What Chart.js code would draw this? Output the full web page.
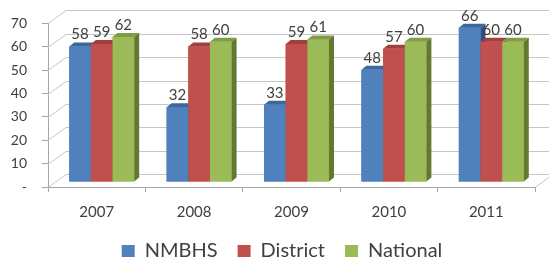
<!DOCTYPE html>
<html>
<head>
<meta charset="utf-8">
<script src="https://cdn.jsdelivr.net/npm/chart.js@4/dist/chart.umd.min.js"></script>
<style>
  html, body { margin: 0; padding: 0; background: #ffffff; }
  #wrap { width: 549px; height: 260px; position: relative; }
</style>
</head>
<body>
<div id="wrap"><canvas id="c" width="549" height="260"></canvas></div>
<script>
const categories = ['2007', '2008', '2009', '2010', '2011'];
const nmbhs    = [58, 32, 33, 48, 66];
const district = [59, 58, 59, 57, 60];
const national = [62, 60, 61, 60, 60];
const seriesNames = ['NMBHS', 'District', 'National'];
const yMin = 0, yMax = 70, yStep = 10;

const FRONT = ['#4F81BD', '#C0504D', '#9BBB59'];
const TOP   = ['#3A679C', '#A23E3B', '#7F9C46'];
const SIDE  = ['#2C5282', '#8A3230', '#62792F'];

// 3D styling offsets (pixels)
const WALL_DX = 18, WALL_DY = -13;
const BAR_SX = 5, BAR_SY = -5;
const BAR_DX = 5, BAR_DY = -4;
const LEGEND_FIT_PAD = 9, LEGEND_DRAW_PAD = 20, LEGEND_SHIFT_X = -2;
const GRID = '#c6c6c6';
const TEXT = '#404040';
const FONT = 'Lato, "Open Sans", sans-serif';

const threeD = {
  id: 'threeD',
  afterLayout(chart) {
    const lg = chart.legend;
    if (lg) {
      try { lg.options.labels.padding = LEGEND_DRAW_PAD; } catch (e) {}
      lg.left += LEGEND_SHIFT_X; lg.right += LEGEND_SHIFT_X;
    }
  },
  beforeDatasetsDraw(chart) {
    const {ctx, chartArea: a, scales: {y}} = chart;
    ctx.save();
    ctx.strokeStyle = GRID;
    ctx.lineWidth = 1;
    for (let v = yMin; v <= yMax; v += yStep) {
      const py = Math.round(y.getPixelForValue(v)) + 0.5;
      ctx.beginPath();
      ctx.moveTo(a.left, py);
      ctx.lineTo(a.left + WALL_DX, py + WALL_DY);
      ctx.lineTo(a.right + WALL_DX, py + WALL_DY);
      ctx.stroke();
    }
    const p0 = Math.round(y.getPixelForValue(yMin)) + 0.5;
    ctx.beginPath();
    ctx.moveTo(a.right, p0);
    ctx.lineTo(a.right + WALL_DX, p0 + WALL_DY);
    ctx.stroke();
    ctx.restore();
    // shift the library-drawn bar fronts into the 3D depth position
    ctx.save();
    ctx.translate(BAR_SX, BAR_SY);
    return true;
  },
  afterDatasetsDraw(chart) {
    const ctx = chart.ctx;
    ctx.restore();
    ctx.save();
    ctx.translate(BAR_SX, BAR_SY);
    // draw every bar left-to-right so nearer faces overlap correctly
    const n = chart.data.labels.length;
    for (let j = 0; j < n; j++) {
      chart.data.datasets.forEach((ds, i) => {
        const bar = chart.getDatasetMeta(i).data[j];
        const p = bar.getProps(['x', 'y', 'base', 'width'], true);
        const l = p.x - p.width / 2, r = p.x + p.width / 2;
        const t = p.y, b = p.base;
        ctx.fillStyle = FRONT[i];
        ctx.fillRect(l, t, r - l, b - t);
        ctx.fillStyle = TOP[i];
        ctx.beginPath();
        ctx.moveTo(l, t);
        ctx.lineTo(l + BAR_DX, t + BAR_DY);
        ctx.lineTo(r + BAR_DX, t + BAR_DY);
        ctx.lineTo(r, t);
        ctx.closePath();
        ctx.fill();
        ctx.fillStyle = SIDE[i];
        ctx.beginPath();
        ctx.moveTo(r, t);
        ctx.lineTo(r + BAR_DX, t + BAR_DY);
        ctx.lineTo(r + BAR_DX, b + BAR_DY);
        ctx.lineTo(r, b);
        ctx.closePath();
        ctx.fill();
      });
    }
    ctx.fillStyle = TEXT;
    ctx.font = '15px ' + FONT;
    ctx.textAlign = 'center';
    ctx.textBaseline = 'middle';
    chart.data.datasets.forEach((ds, i) => {
      chart.getDatasetMeta(i).data.forEach((bar, j) => {
        const p = bar.getProps(['x', 'y'], true);
        ctx.fillText(String(ds.data[j]), p.x, p.y - 12);
      });
    });
    ctx.restore();
  }
};

const seriesData = [nmbhs, district, national];
new Chart(document.getElementById('c'), {
  type: 'bar',
  data: {
    labels: categories,
    datasets: seriesData.map((d, i) => ({
      label: seriesNames[i],
      data: d,
      backgroundColor: FRONT[i],
      borderWidth: 0,
      clip: false,
      categoryPercentage: 0.667,
      barPercentage: 1.0
    }))
  },
  options: {
    responsive: false,
    animation: false,
    devicePixelRatio: 1,
    layout: { padding: { top: 23, right: 14, bottom: 0, left: 0 } },
    plugins: {
      tooltip: { enabled: false },
      legend: {
        position: 'bottom',
        labels: {
          boxWidth: 13,
          boxHeight: 12,
          padding: LEGEND_FIT_PAD,
          color: TEXT,
          font: { family: FONT, size: 20 }
        }
      }
    },
    scales: {
      x: {
        offset: true,
        grid: { drawOnChartArea: false, drawTicks: true, tickLength: 5, color: '#a6a6a6', offset: true },
        border: { display: true, color: '#a6a6a6' },
        ticks: { color: TEXT, font: { family: FONT, size: 15 }, padding: 11, maxRotation: 0 },
        afterFit: s => { s.height = 34; }
      },
      y: {
        min: yMin,
        max: yMax,
        grid: { drawOnChartArea: false, drawTicks: true, tickLength: 6, color: '#a6a6a6' },
        border: { display: true, color: '#a6a6a6' },
        ticks: {
          stepSize: yStep,
          color: TEXT,
          font: { family: FONT, size: 14 },
          padding: 15,
          callback: v => (v === 0 ? '-' : v)
        },
        afterFit: s => { s.width = 48; }
      }
    }
  },
  plugins: [threeD]
});
</script>
</body>
</html>
